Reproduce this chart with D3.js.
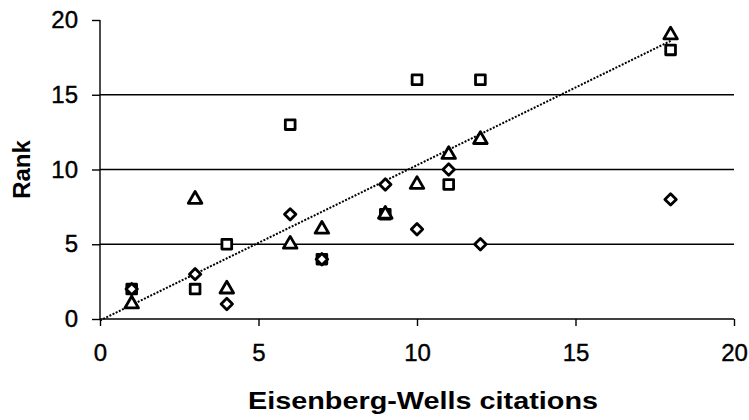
<!DOCTYPE html>
<html><head><meta charset="utf-8">
<script src="https://cdn.jsdelivr.net/npm/d3@7"></script>
<style>html,body{margin:0;padding:0;background:#fff;}</style>
</head><body>
<svg id="c" width="749" height="420"></svg>
<script>
const xValues = [1, 3, 4, 6, 7, 9, 10, 11, 12, 18];
const diamondRanks = [2, 3, 1, 7, 4, 9, 6, 10, 5, 8];
const squareRanks = [2, 2, 5, 13, 4, 7, 16, 9, 16, 18];
const triangleRanks = [1, 8, 2, 5, 6, 7, 9, 11, 12, 19];
const trendX = [0, 18];
const trendY = [-0.1, 18.6];
const xTicks = [0, 5, 10, 15, 20];
const yTicks = [0, 5, 10, 15, 20];
const gridTicks = [5, 10, 15];
const xTitle = "Eisenberg-Wells citations";
const yTitle = "Rank";

const svg = d3.select("#c");
const x = d3.scaleLinear().domain([0, 20]).range([100, 734]);
const y = d3.scaleLinear().domain([0, 20]).range([319, 20]);
const font = "'Liberation Sans', Arial, sans-serif";

// gridlines
svg.append("g").selectAll("line").data(gridTicks).join("line")
  .attr("x1", x(0)).attr("x2", x(20))
  .attr("y1", d => y(d)).attr("y2", d => y(d))
  .attr("stroke", "#000").attr("stroke-width", 1.6);

// axes
const xAxis = svg.append("g").attr("transform", `translate(0,${y(0)})`)
  .call(d3.axisBottom(x).tickValues(xTicks).tickSize(7).tickPadding(18).tickFormat(d3.format("d")));
const yAxis = svg.append("g").attr("transform", `translate(${x(0)},0)`)
  .call(d3.axisLeft(y).tickValues(yTicks).tickSize(8).tickPadding(14).tickFormat(d3.format("d")));
[xAxis, yAxis].forEach(a => {
  a.select(".domain").attr("stroke", "#000").attr("stroke-width", 1.4);
  a.selectAll(".tick line").attr("stroke", "#000").attr("stroke-width", 1.4);
  a.selectAll(".tick text").attr("fill", "#000").style("font-family", font).style("font-size", "24px")
    .attr("stroke", "#000").attr("stroke-width", 0.4);
});
xAxis.select(".domain").attr("d", `M${x(0)},0H${x(20)}`);
yAxis.select(".domain").attr("d", `M0,${y(0)}V${y(20)}`);

// trend line
svg.append("line")
  .attr("x1", x(trendX[0])).attr("y1", y(trendY[0]))
  .attr("x2", x(trendX[1])).attr("y2", y(trendY[1]))
  .attr("stroke", "#000").attr("stroke-width", 2).attr("stroke-dasharray", "2,1.5");

// markers
const rhombus = {draw(ctx, size) { const r = Math.sqrt(size) / 2;
  ctx.moveTo(0, -r); ctx.lineTo(r, 0); ctx.lineTo(0, r); ctx.lineTo(-r, 0); ctx.closePath(); }};
function plot(ranks, type, size) {
  svg.append("g").selectAll("path").data(xValues.map((v, i) => [v, ranks[i]])).join("path")
    .attr("d", d3.symbol().type(type).size(size))
    .attr("transform", d => `translate(${x(d[0])},${y(d[1])})`)
    .attr("fill", "#fff").attr("stroke", "#000").attr("stroke-width", 2.8)
    .attr("stroke-linejoin", "round");
}
plot(squareRanks, d3.symbolSquare, 95);
plot(triangleRanks, d3.symbolTriangle, 80);
plot(diamondRanks, rhombus, 130);

// titles
svg.append("text").attr("x", 423).attr("y", 409).attr("text-anchor", "middle")
  .attr("textLength", 350).attr("lengthAdjust", "spacingAndGlyphs")
  .style("font-family", font).style("font-weight", "bold").style("font-size", "24px").text(xTitle);
svg.append("text").attr("transform", `translate(30,${y(10)}) rotate(-90)`).attr("text-anchor", "middle")
  .style("font-family", font).style("font-weight", "bold").style("font-size", "24px").text(yTitle);
</script>
</body></html>
